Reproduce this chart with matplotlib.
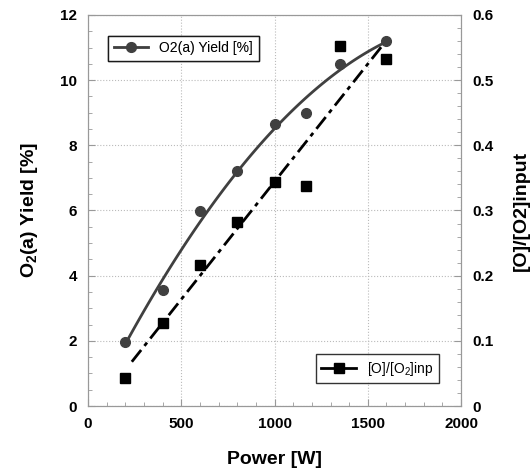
import matplotlib.pyplot as plt
import numpy as np
from matplotlib.ticker import MultipleLocator

plt.rcParams['font.family'] = ['Liberation Sans', 'DejaVu Sans']
plt.rcParams['mathtext.fontset'] = 'custom'
plt.rcParams['mathtext.rm'] = 'Liberation Sans'
plt.rcParams['mathtext.bf'] = 'Liberation Sans:bold'

# measured data
power = [200, 400, 600, 800, 1000, 1170, 1350, 1600]
yield_o2a = [1.97, 3.55, 5.98, 7.22, 8.65, 9.0, 10.5, 11.2]
o_ratio = [0.043, 0.128, 0.217, 0.283, 0.343, 0.338, 0.552, 0.532]

fig = plt.figure(figsize=(5.30, 4.73), dpi=100)
ax = fig.add_axes([0.166, 0.1416, 0.704, 0.8268])
ax2 = ax.twinx()

dark = '#404040'

# trend lines (least squares fits of the data)
xf = np.linspace(200, 1600, 100)
p1 = np.polyfit(power, yield_o2a, 2)
ax.plot(xf, np.polyval(p1, xf), color=dark, lw=2, zorder=3)
xf2 = np.linspace(235, 1585, 100)
p2 = np.polyfit(power, o_ratio, 1)
ax2.plot(xf2, np.polyval(p2, xf2), color='black', lw=2,
         dashes=(5.4, 1.9, 1.5, 1.9), zorder=3)

l1, = ax.plot(power, yield_o2a, 'o', color=dark, ms=7, zorder=4)
l2, = ax2.plot(power, o_ratio, 's', color='black', ms=7, zorder=4)

ax.set_xlim(0, 2000)
ax.set_ylim(0, 12)
ax2.set_ylim(0, 0.6)
ax.xaxis.set_major_locator(MultipleLocator(500))
ax.xaxis.set_minor_locator(MultipleLocator(100))
ax.yaxis.set_major_locator(MultipleLocator(2))
ax.yaxis.set_minor_locator(MultipleLocator(0.5))
ax2.yaxis.set_major_locator(MultipleLocator(0.1))
ax2.yaxis.set_minor_locator(MultipleLocator(0.02))
ax2.yaxis.set_major_formatter(lambda v, p: '0' if v == 0 else f'{v:.1f}')

for a in (ax, ax2):
    a.tick_params(which='both', direction='in', colors='#999999',
                  labelcolor='black', labelsize=11)
    a.tick_params(which='major', length=5)
    a.tick_params(which='minor', length=3)
    for s in a.spines.values():
        s.set_color('#999999')
    for lab in a.get_xticklabels() + a.get_yticklabels():
        lab.set_fontweight('bold')
ax.tick_params(axis='x', pad=8)
ax.tick_params(axis='y', pad=8)
ax2.tick_params(axis='y', pad=8)

ax.grid(True, which='major', color='#bbbbbb', ls=':', lw=0.8)

ax.set_xlabel('Power [W]', fontsize=14, fontweight='bold', labelpad=14)
ax.set_ylabel('O$_\\mathbf{2}$(a) Yield [%]', fontsize=14, fontweight='bold', labelpad=14)
ax2.set_ylabel('[O]/[O2]input', fontsize=14, fontweight='bold', labelpad=14,
               rotation=90)

h1, = ax.plot([], [], '-o', color=dark, lw=2, ms=7)
h2, = ax2.plot([], [], '-s', color='black', lw=2, ms=7)
leg1 = ax.legend([h1], ['O2(a) Yield [%]'], loc='upper left',
                 bbox_to_anchor=(0.035, 0.965), fancybox=False,
                 edgecolor='black', fontsize=10, handlelength=2.5)
leg1.get_frame().set_linewidth(1)
ax.add_artist(leg1)
leg2 = ax2.legend([h2], ['[O]/[O$_2$]inp'], loc='lower right',
                  bbox_to_anchor=(0.96, 0.04), fancybox=False,
                  edgecolor='black', fontsize=10, handlelength=2.5)
leg2.get_frame().set_linewidth(1)

fig.savefig('out.png', dpi=100)
